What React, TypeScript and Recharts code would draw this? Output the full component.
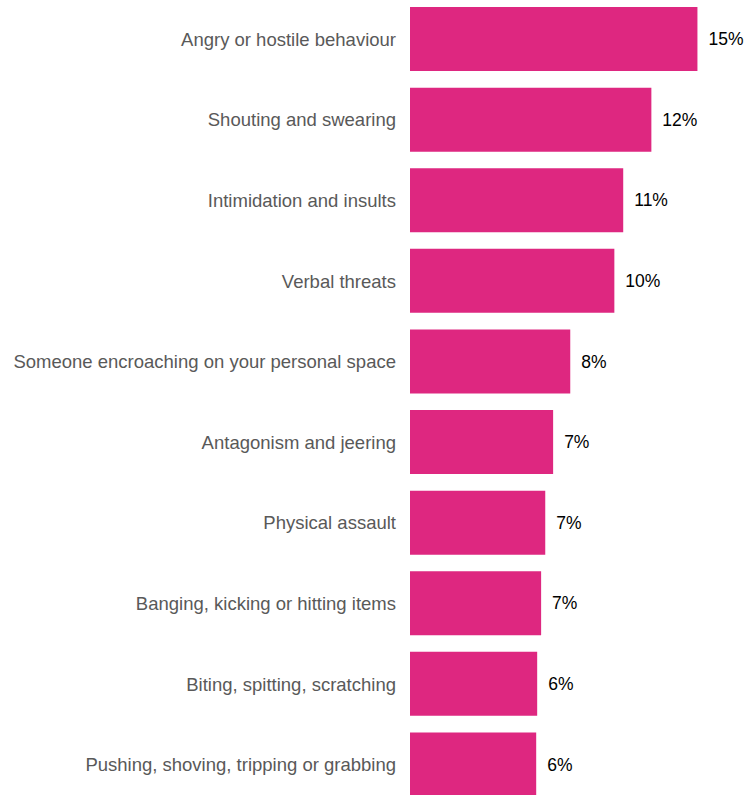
import React from "react";
import { BarChart, Bar, XAxis, YAxis, LabelList } from "recharts";

const categories = [
  "Angry or hostile behaviour",
  "Shouting and swearing",
  "Intimidation and insults",
  "Verbal threats",
  "Someone encroaching on your personal space",
  "Antagonism and jeering",
  "Physical assault",
  "Banging, kicking or hitting items",
  "Biting, spitting, scratching",
  "Pushing, shoving, tripping or grabbing",
];
const values = [14.6, 12.26, 10.83, 10.38, 8.14, 7.27, 6.87, 6.66, 6.46, 6.41];
const valueLabels = ["15%", "12%", "11%", "10%", "8%", "7%", "7%", "7%", "6%", "6%"];

const data = categories.map((c, i) => ({ name: c, value: values[i], label: valueLabels[i] }));

export default function App() {
  return (
    <div style={{ position: "absolute", top: -1, left: 0 }}>
      <BarChart
        width={747}
        height={806}
        data={data}
        layout="vertical"
        margin={{ top: 0, right: 22, bottom: 0, left: 0 }}
        barCategoryGap="10%"
      >
        <XAxis type="number" domain={[0, 16]} hide />
        <YAxis
          type="category"
          dataKey="name"
          width={410}
          axisLine={false}
          tickLine={false}
          tickMargin={8}
          tick={{ fill: "#595959", fontSize: 18.5, fontFamily: "Liberation Sans, Arial, sans-serif" }}
        />
        <Bar dataKey="value" fill="#de2780" isAnimationActive={false}>
          <LabelList
            dataKey="label"
            position="right"
            offset={11}
            style={{ fill: "#000000", fontSize: 17.5, fontFamily: "Liberation Sans, Arial, sans-serif" }}
          />
        </Bar>
      </BarChart>
    </div>
  );
}
